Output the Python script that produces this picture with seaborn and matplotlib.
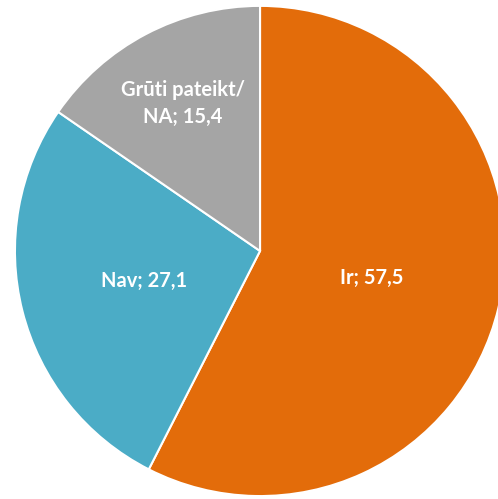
import numpy as np
import matplotlib
matplotlib.use("Agg")
import matplotlib.pyplot as plt
import seaborn as sns

# Data
categories = ["Ir", "Nav", "Grūti pateikt/\nNA"]
values = [57.5, 27.1, 15.4]
colors = ["#E36C0A", "#4BACC6", "#A5A5A5"]
label_dist = [0.47, 0.49, 0.68]

sns.set_style("white")
plt.rcParams["font.family"] = ["Lato", "DejaVu Sans"]

fig = plt.figure(figsize=(4.98, 4.99), dpi=100)
ax = fig.add_axes([0, 0, 1, 1])

wedges, _ = ax.pie(values, colors=colors, startangle=90, counterclock=False,
                   wedgeprops=dict(edgecolor="white", linewidth=1.5))

# Labels inside each slice
for w, cat, val, d in zip(wedges, categories, values, label_dist):
    ang = np.deg2rad((w.theta1 + w.theta2) / 2)
    txt = f"{cat}; {val:.1f}".replace(".", ",")
    ax.text(d * np.cos(ang), d * np.sin(ang), txt, ha="center", va="center",
            color="white", fontsize=14.5, fontweight="bold", linespacing=1.45)

ax.set_xlim(-1.061, 0.971)
ax.set_ylim(-1.012, 1.024)
ax.set_aspect("auto")
ax.axis("off")

fig.savefig("out.png", dpi=100)
